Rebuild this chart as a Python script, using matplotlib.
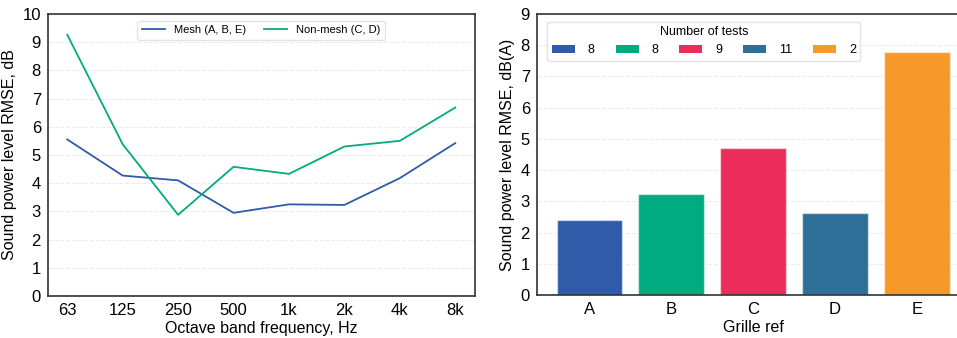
import matplotlib
matplotlib.use('Agg')
import matplotlib.pyplot as plt
from matplotlib.patches import Patch

plt.rcParams['font.family'] = ['Liberation Sans', 'DejaVu Sans']

# Left panel data
bands = ['63', '125', '250', '500', '1k', '2k', '4k', '8k']
mesh = [5.55, 4.27, 4.10, 2.95, 3.25, 3.23, 4.18, 5.42]
non_mesh = [9.26, 5.38, 2.88, 4.58, 4.33, 5.30, 5.50, 6.68]

# Right panel data
grilles = ['A', 'B', 'C', 'D', 'E']
rmse = [2.39, 3.24, 4.70, 2.62, 7.78]
n_tests = ['8', '8', '9', '11', '2']
bar_colors = ['#2f5ba8', '#00ab80', '#ec2d5b', '#2e6f98', '#f7982b']

fig = plt.figure(figsize=(9.57, 3.38), dpi=100)
fig.patch.set_facecolor('white')

grid_kw = dict(color='#ececec', linestyle='--', linewidth=0.8)

# ---- left: octave band RMSE ----
ax1 = fig.add_axes([0.050, 0.124, 0.446, 0.835])
x = range(len(bands))
ax1.plot(x, mesh, color='#2f5ba8', lw=1.3, label='Mesh (A, B, E)')
ax1.plot(x, non_mesh, color='#00ab80', lw=1.3, label='Non-mesh (C, D)')
ax1.set_xlim(-0.35, len(bands) - 0.65)
ax1.set_ylim(0, 10)
ax1.set_yticks(range(0, 11))
ax1.set_xticks(list(x))
ax1.set_xticklabels(bands)
ax1.yaxis.grid(True, **grid_kw)
ax1.set_axisbelow(True)
ax1.set_xlabel('Octave band frequency, Hz', fontsize=11.5, labelpad=2)
ax1.set_ylabel('Sound power level RMSE, dB', fontsize=11.5, labelpad=4)
ax1.tick_params(labelsize=12, length=0, pad=5)
for s in ax1.spines.values():
    s.set_color('#333333')
    s.set_linewidth(1.2)
leg1 = ax1.legend(loc='upper center', ncol=2, fontsize=8, frameon=True,
                  bbox_to_anchor=(0.5, 0.995), columnspacing=1.6,
                  handlelength=2.1, handletextpad=0.8)
leg1.get_frame().set_edgecolor('#dddddd')

# ---- right: grille RMSE ----
ax2 = fig.add_axes([0.561, 0.127, 0.452, 0.832])
bars = ax2.bar(grilles, rmse, width=0.8, color=bar_colors,
               edgecolor=(1, 1, 1, 0.5), linewidth=1.0)
ax2.set_xlim(-0.64, len(grilles) - 0.36)
ax2.set_ylim(0, 9)
ax2.set_yticks(range(0, 10))
ax2.yaxis.grid(True, **grid_kw)
ax2.set_axisbelow(True)
ax2.set_xlabel('Grille ref', fontsize=11.5, labelpad=2)
ax2.set_ylabel('Sound power level RMSE, dB(A)', fontsize=11.5, labelpad=4)
ax2.tick_params(labelsize=12, length=0, pad=5)
for s in ax2.spines.values():
    s.set_color('#333333')
    s.set_linewidth(1.2)
ax2.spines['right'].set_visible(False)
handles = [Patch(facecolor=c, edgecolor='none') for c in bar_colors]
leg2 = ax2.legend(handles, n_tests, title='Number of tests', ncol=5,
                  loc='upper left', bbox_to_anchor=(0.01, 0.995),
                  fontsize=9, title_fontsize=9, columnspacing=1.7,
                  handlelength=1.85, handleheight=0.6, handletextpad=1.0,
                  borderpad=0.35, frameon=True)
leg2.get_frame().set_edgecolor('#dddddd')

fig.savefig('out.png', dpi=100, facecolor='white')
